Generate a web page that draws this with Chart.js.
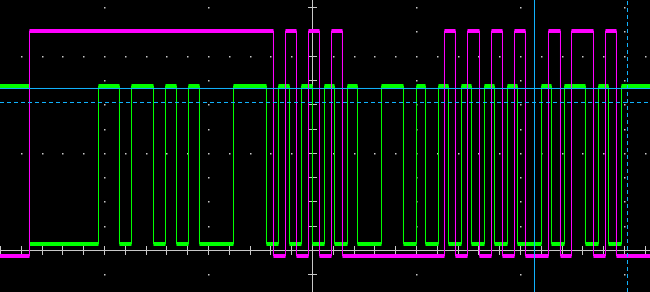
<!DOCTYPE html>
<html>
<head>
<meta charset="utf-8">
<script src="https://cdn.jsdelivr.net/npm/chart.js@4.4.1/dist/chart.umd.min.js"></script>
<style>
  body { margin: 0; background: #000; }
  #wrap { width: 650px; height: 292px; }
</style>
</head>
<body>
<div id="wrap"><canvas id="scope"></canvas></div>
<script>
// time axis in minor divisions (5 per major), level axis in minor divisions (4 per major)
const timeRange = [-15, 16.25];
const levelRange = [-1.73, 10.29];

// channel 1 (magenta) starts low
const ch1Edges = [-13.582, -1.851, -1.274, -0.745, -0.168, 0.361, 0.938, 1.466,
    6.370, 6.899, 7.476, 8.053, 8.630, 9.159, 9.736, 10.264, 11.370, 11.947,
    12.476, 13.534, 14.111, 14.639];
const ch1Levels = [-0.248, 9.014];

// channel 2 (green) starts high
const ch2Edges = [-13.582, -10.264, -9.255, -8.678, -7.620, -7.043, -6.514, -5.938,
    -5.409, -3.774, -2.188, -1.611, -1.082, -0.505, 0.024, 0.601, 1.082, 1.707, 2.188,
    3.341, 4.399, 5.024, 5.457, 6.082, 6.563, 7.188, 7.668, 8.293, 8.774, 9.399, 9.880,
    11.034, 11.514, 12.139, 13.149, 13.774, 14.255, 14.880];
const ch2Levels = [0.246, 6.750];

// cursors
const hCursors = [6.647, 6.071];   // solid, dashed
const vCursors = [10.697, 15.168];  // solid, dashed

const stepTrace = (edges, levels, startHigh) => {
    let hi = startHigh;
    const pts = [{ x: timeRange[0], y: levels[hi ? 1 : 0] }];
    edges.forEach(e => {
        pts.push({ x: e, y: levels[hi ? 1 : 0] });
        hi = !hi;
        pts.push({ x: e, y: levels[hi ? 1 : 0] });
    });
    pts.push({ x: timeRange[1], y: levels[hi ? 1 : 0] });
    return pts;
};

// flat parts only, broken at each edge (drawn thick like scope persistence)
const levelBands = (edges, levels, startHigh) => {
    let hi = startHigh;
    let prev = timeRange[0];
    const pts = [];
    edges.concat([timeRange[1]]).forEach(e => {
        pts.push({ x: prev, y: levels[hi ? 1 : 0] });
        pts.push({ x: e, y: levels[hi ? 1 : 0] });
        pts.push({ x: e, y: null });
        hi = !hi;
        prev = e;
    });
    return pts;
};

const graticule = {
    id: 'graticule',
    beforeDatasetsDraw(chart) {
        const { ctx, scales: { x, y } } = chart;
        const px = v => Math.round(x.getPixelForValue(v));
        const py = v => Math.round(y.getPixelForValue(v));
        ctx.save();
        ctx.fillStyle = '#c8c8c8';
        for (let row = 4; row <= 8; row += 4) {
            for (let t = -14; t <= 16; t++) {
                if (t !== 0) ctx.fillRect(px(t), py(row), 1.5, 1.5);
            }
        }
        for (let col = -10; col <= 15; col += 5) {
            if (col === 0) continue;
            for (let v = -1; v <= 10; v++) {
                if (v !== 0 && v % 4 !== 0) ctx.fillRect(px(col), py(v), 1.5, 1.5);
            }
        }
        ctx.strokeStyle = '#c8c8c8';
        ctx.lineWidth = 1;
        const x0 = px(0) + 0.5, y0 = py(0) + 0.5;
        ctx.beginPath();
        ctx.moveTo(x0, chart.chartArea.top);
        ctx.lineTo(x0, chart.chartArea.bottom);
        ctx.moveTo(chart.chartArea.left, y0);
        ctx.lineTo(chart.chartArea.right, y0);
        for (let t = -15; t <= 16; t++) {
            if (t === 0) continue;
            ctx.moveTo(px(t) + 0.5, y0 - 4.5);
            ctx.lineTo(px(t) + 0.5, y0 + 4.5);
        }
        for (let v = -1; v <= 10; v++) {
            if (v === 0) continue;
            ctx.moveTo(x0 - 4.5, py(v) + 0.5);
            ctx.lineTo(x0 + 4.5, py(v) + 0.5);
        }
        ctx.stroke();
        ctx.restore();
    }
};

const cursorColor = '#12b4ff';

new Chart(document.getElementById('scope').getContext('2d'), {
    type: 'line',
    data: {
        datasets: [
            { data: [{ x: timeRange[0], y: hCursors[0] }, { x: timeRange[1], y: hCursors[0] }],
              borderColor: cursorColor, borderWidth: 1, order: 0 },
            { data: [{ x: timeRange[0], y: hCursors[1] }, { x: timeRange[1], y: hCursors[1] }],
              borderColor: cursorColor, borderWidth: 1, borderDash: [4, 3], order: 0 },
            { data: [{ x: vCursors[0], y: levelRange[0] }, { x: vCursors[0], y: levelRange[1] }],
              borderColor: cursorColor, borderWidth: 1, order: 0 },
            { data: [{ x: vCursors[1], y: levelRange[0] }, { x: vCursors[1], y: levelRange[1] }],
              borderColor: cursorColor, borderWidth: 1, borderDash: [4, 3], order: 0 },
            { data: stepTrace(ch1Edges, ch1Levels, false), borderColor: '#ff00ff', borderWidth: 1, order: 1 },
            { data: levelBands(ch1Edges, ch1Levels, false), borderColor: '#ff00ff', borderWidth: 4,
              borderCapStyle: 'butt', spanGaps: false, order: 1 },
            { data: stepTrace(ch2Edges, ch2Levels, true), borderColor: '#00ff00', borderWidth: 1, order: 2 },
            { data: levelBands(ch2Edges, ch2Levels, true), borderColor: '#00ff00', borderWidth: 4,
              borderCapStyle: 'butt', spanGaps: false, order: 2 }
        ]
    },
    options: {
        responsive: true,
        maintainAspectRatio: false,
        animation: false,
        layout: { padding: 0 },
        elements: { point: { radius: 0 }, line: { tension: 0 } },
        plugins: { legend: { display: false }, tooltip: { enabled: false } },
        scales: {
            x: { type: 'linear', min: timeRange[0], max: timeRange[1], display: false },
            y: { type: 'linear', min: levelRange[0], max: levelRange[1], display: false }
        }
    },
    plugins: [graticule]
});
</script>
</body>
</html>
